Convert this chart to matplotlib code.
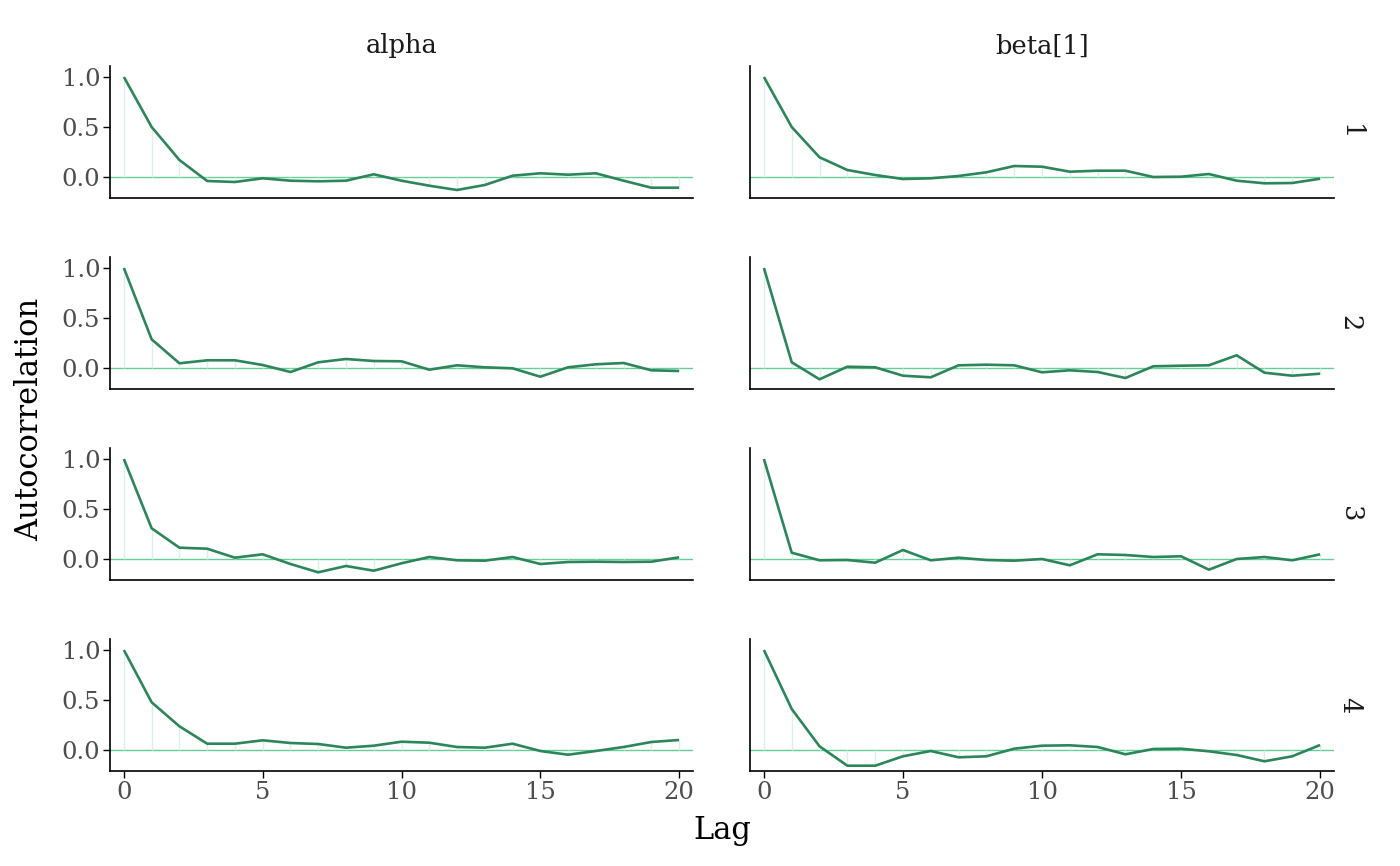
import matplotlib
matplotlib.use("Agg")
import matplotlib.pyplot as plt
import numpy as np

lags = list(range(21))
params = ["alpha", "beta[1]"]
chains = ["1", "2", "3", "4"]

alpha_c1 = [1.0, 0.50, 0.17, -0.04, -0.05, -0.013, -0.037, -0.043, -0.037, 0.027, -0.037,
            -0.087, -0.13, -0.08, 0.013, 0.037, 0.023, 0.037, -0.037, -0.107, -0.107]
beta_c1 = [1.0, 0.50, 0.197, 0.07, 0.02, -0.02, -0.013, 0.01, 0.047, 0.11, 0.103,
           0.053, 0.063, 0.063, 0.0, 0.003, 0.03, -0.037, -0.063, -0.06, -0.017]
alpha_c2 = [1.0, 0.287, 0.047, 0.077, 0.077, 0.03, -0.04, 0.057, 0.09, 0.07, 0.067,
            -0.017, 0.027, 0.007, -0.003, -0.087, 0.007, 0.037, 0.05, -0.023, -0.03]
beta_c2 = [1.0, 0.057, -0.113, 0.013, 0.007, -0.077, -0.093, 0.027, 0.033, 0.027, -0.043,
           -0.023, -0.04, -0.1, 0.017, 0.023, 0.027, 0.127, -0.047, -0.077, -0.057]
alpha_c3 = [1.0, 0.307, 0.113, 0.103, 0.013, 0.047, -0.05, -0.133, -0.07, -0.117, -0.043,
            0.02, -0.013, -0.017, 0.02, -0.05, -0.03, -0.027, -0.03, -0.027, 0.017]
beta_c3 = [1.0, 0.063, -0.013, -0.01, -0.037, 0.09, -0.013, 0.013, -0.01, -0.017, 0.0,
           -0.063, 0.047, 0.04, 0.02, 0.027, -0.107, 0.0, 0.02, -0.013, 0.047]
alpha_c4 = [1.0, 0.477, 0.237, 0.063, 0.063, 0.097, 0.07, 0.06, 0.023, 0.043, 0.083,
            0.073, 0.03, 0.023, 0.063, -0.01, -0.047, -0.01, 0.03, 0.08, 0.1]
beta_c4 = [1.0, 0.41, 0.037, -0.157, -0.157, -0.063, -0.01, -0.073, -0.063, 0.013, 0.043,
           0.047, 0.03, -0.043, 0.01, 0.013, -0.013, -0.05, -0.113, -0.063, 0.05]

data = [[alpha_c1, beta_c1], [alpha_c2, beta_c2], [alpha_c3, beta_c3], [alpha_c4, beta_c4]]

yticks = [0.0, 0.5, 1.0]
ytick_labels = ["0.0", "0.5", "1.0"]
xticks = [0, 5, 10, 15, 20]

dark = "#2d8659"
mid = "#66cc99"
light = "#d9f2e6"

plt.rcParams["font.family"] = ["DejaVu Serif"]

W, H = 1400, 866
fig = plt.figure(figsize=(W / 100, H / 100), dpi=100)

col_x = [(110, 693), (750, 1334)]
row_y = [(66, 198), (257, 389), (448, 580), (639, 771)]

for r in range(4):
    for c in range(2):
        x0, x1 = col_x[c]
        y0, y1 = row_y[r]
        ax = fig.add_axes([x0 / W, 1 - y1 / H, (x1 - x0) / W, (y1 - y0) / H])
        vals = data[r][c]
        ax.axhline(0, color=mid, lw=1.0, zorder=1)
        ax.vlines(lags, 0, vals, color=light, lw=1.0, zorder=2)
        ax.plot(lags, vals, color=dark, lw=1.9, zorder=3, solid_capstyle="butt")
        ax.set_xlim(-0.5, 20.5)
        ax.set_ylim(-0.21, 1.11)
        for s in ["top", "right"]:
            ax.spines[s].set_visible(False)
        ax.spines["left"].set_linewidth(1.2)
        ax.spines["bottom"].set_linewidth(1.2)
        ax.set_yticks(yticks)
        ax.set_xticks(xticks)
        if c == 0:
            ax.set_yticklabels(ytick_labels)
            ax.tick_params(axis="y", length=5, width=1.0, labelsize=17.5,
                           labelcolor="#4d4d4d", pad=2)
        else:
            ax.tick_params(axis="y", length=0, labelleft=False)
        if r == 3:
            ax.tick_params(axis="x", length=5, width=1.0, labelsize=17.5,
                           labelcolor="#4d4d4d", pad=2)
        else:
            ax.tick_params(axis="x", length=0, labelbottom=False)
        if r == 0:
            ax.set_title(params[c], fontsize=18.5, pad=9, color="#1a1a1a")
        if c == 1:
            ax.text(1.006, 0.5, chains[r], transform=ax.transAxes, rotation=-90,
                    ha="left", va="center", fontsize=18.5, color="#1a1a1a")

fig.text(722 / W, 1 - 830 / H, "Lag", ha="center", va="center", fontsize=22)
fig.text(30 / W, 1 - 419 / H, "Autocorrelation", ha="center", va="center",
         fontsize=22, rotation=90)

fig.savefig("out.png", dpi=100)
